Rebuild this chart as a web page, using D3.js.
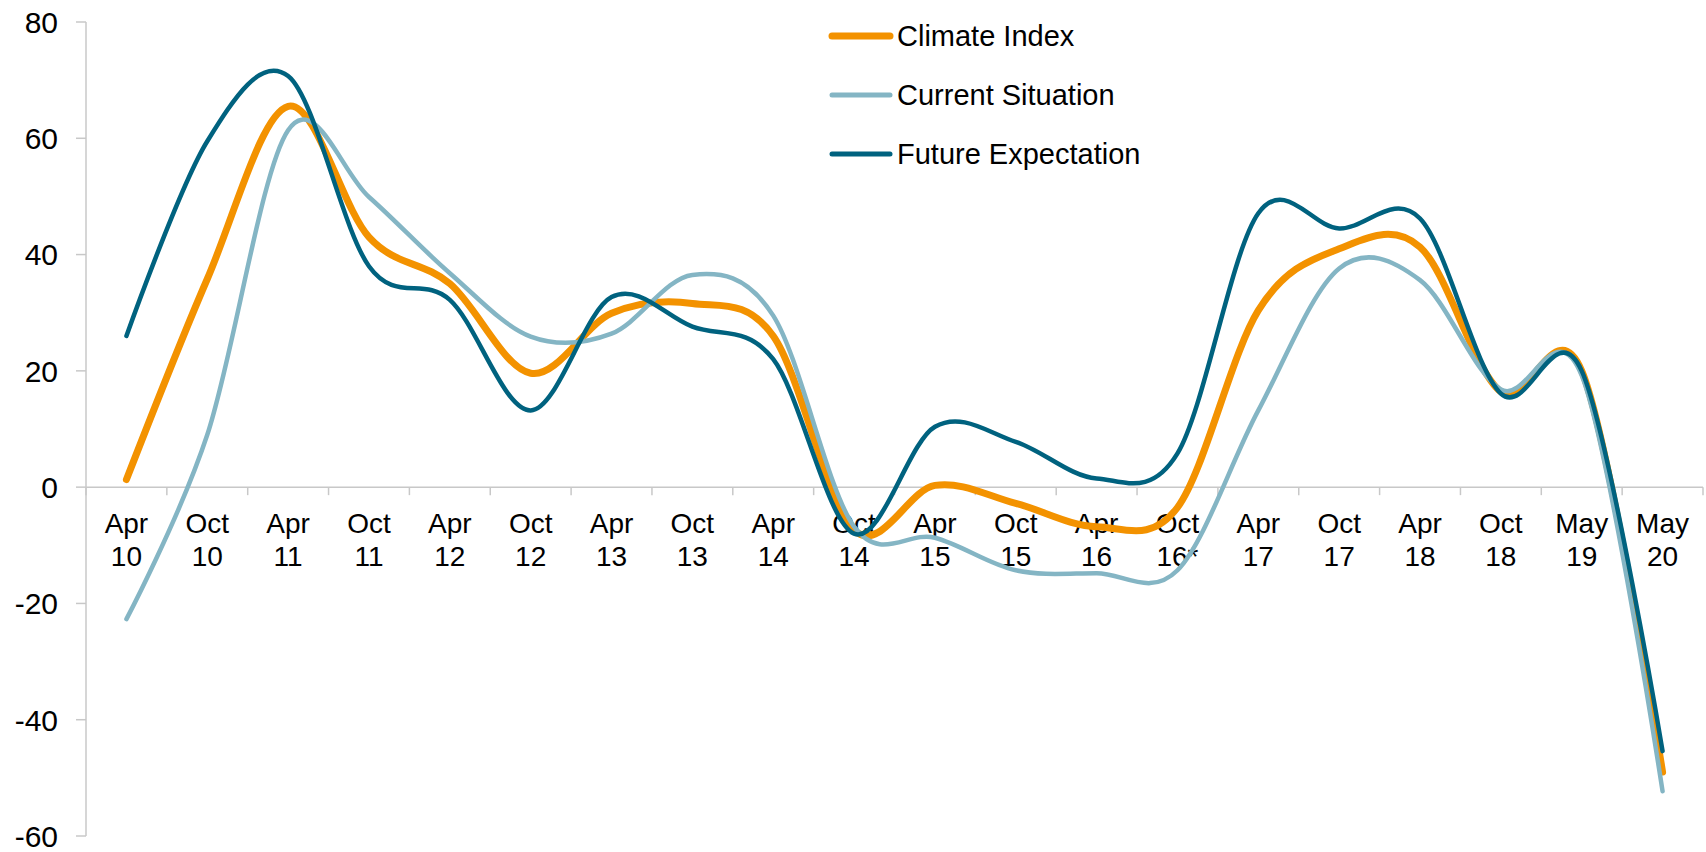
<!DOCTYPE html>
<html><head><meta charset="utf-8">
<script src="https://cdn.jsdelivr.net/npm/d3@7"></script>
<style>body{margin:0;background:#fff}svg{display:block}text{font-family:"Liberation Sans",Arial,sans-serif;fill:#000}</style>
</head><body><svg id="c" width="1706" height="852"></svg>
<script>
const categories = [["Apr","10"],["Oct","10"],["Apr","11"],["Oct","11"],["Apr","12"],["Oct","12"],["Apr","13"],["Oct","13"],["Apr","14"],["Oct","14"],["Apr","15"],["Oct","15"],["Apr","16"],["Oct","16*"],["Apr","17"],["Oct","17"],["Apr","18"],["Oct","18"],["May","19"],["May","20"]];
const climateIndex = [1.3, 35.8, 65.5, 43, 35, 19.6, 29.9, 31.6, 26, -7.4, 0.3, -2.8, -6.8, -3.5, 30.4, 41, 41.3, 16.4, 20, -49];
const currentSituation = [-22.7, 9, 61.4, 49.9, 36.8, 25.9, 26.4, 36.5, 29.5, -6.8, -8.7, -14.3, -14.8, -14.3, 13.2, 37.6, 35.6, 16.8, 19.2, -52.3];
const futureExpectation = [26, 59.5, 70.7, 38, 32.2, 13.2, 32.7, 27.6, 22, -8, 10.4, 7.8, 1.5, 5.8, 47.1, 44.5, 46.2, 16.1, 20, -45.4];
const seriesNames = ["Climate Index","Current Situation","Future Expectation"];
const yTicks = [80,60,40,20,0,-20,-40,-60];

const colors = ["#F39200","#84B5C4","#00627F"];
const widths = [7,4.5,4.5];
const svg = d3.select("#c");
const x = d3.scaleBand().domain(d3.range(categories.length)).range([86,1703]);
const y = d3.scaleLinear().domain([-60,80]).range([836,22]);

// y axis
svg.append("line").attr("x1",86).attr("x2",86).attr("y1",y(80)).attr("y2",y(-60)).attr("stroke","#c8c8c8").attr("stroke-width",1.5);
yTicks.forEach(t=>{
  svg.append("line").attr("x1",76).attr("x2",86).attr("y1",y(t)).attr("y2",y(t)).attr("stroke","#c8c8c8").attr("stroke-width",1.5);
  svg.append("text").attr("x",58).attr("y",y(t)).attr("dy","0.36em").attr("text-anchor","end").style("font-size","30px").text(t);
});
// zero axis
svg.append("line").attr("x1",86).attr("x2",1703).attr("y1",y(0)).attr("y2",y(0)).attr("stroke","#c8c8c8").attr("stroke-width",1.5);
d3.range(categories.length+1).forEach(i=>{
  const xx = 86 + i*x.step();
  svg.append("line").attr("x1",xx).attr("x2",xx).attr("y1",y(0)).attr("y2",y(0)+8).attr("stroke","#c8c8c8").attr("stroke-width",1.5);
});
categories.forEach((c,i)=>{
  const cx = x(i)+x.bandwidth()/2;
  svg.append("text").attr("x",cx).attr("y",533).attr("text-anchor","middle").style("font-size","28px").text(c[0]);
  svg.append("text").attr("x",cx).attr("y",566).attr("text-anchor","middle").style("font-size","28px").text(c[1]);
});

const line = d3.line().x((d,i)=>x(i)+x.bandwidth()/2).y(d=>y(d)).curve(d3.curveCardinal.tension(0));
[climateIndex,currentSituation,futureExpectation].forEach((s,k)=>{
  svg.append("path").attr("d",line(s)).attr("fill","none").attr("stroke",colors[k]).attr("stroke-width",widths[k]).attr("stroke-linecap","round").attr("stroke-linejoin","round");
});
// legend
const ly = [36,95,154];
seriesNames.forEach((n,k)=>{
  svg.append("line").attr("x1",832).attr("x2",890).attr("y1",ly[k]).attr("y2",ly[k]).attr("stroke",colors[k]).attr("stroke-width",k==0?7:5).attr("stroke-linecap","round");
  svg.append("text").attr("x",897).attr("y",ly[k]).attr("dy","0.36em").style("font-size","29px").text(n);
});
</script></body></html>
